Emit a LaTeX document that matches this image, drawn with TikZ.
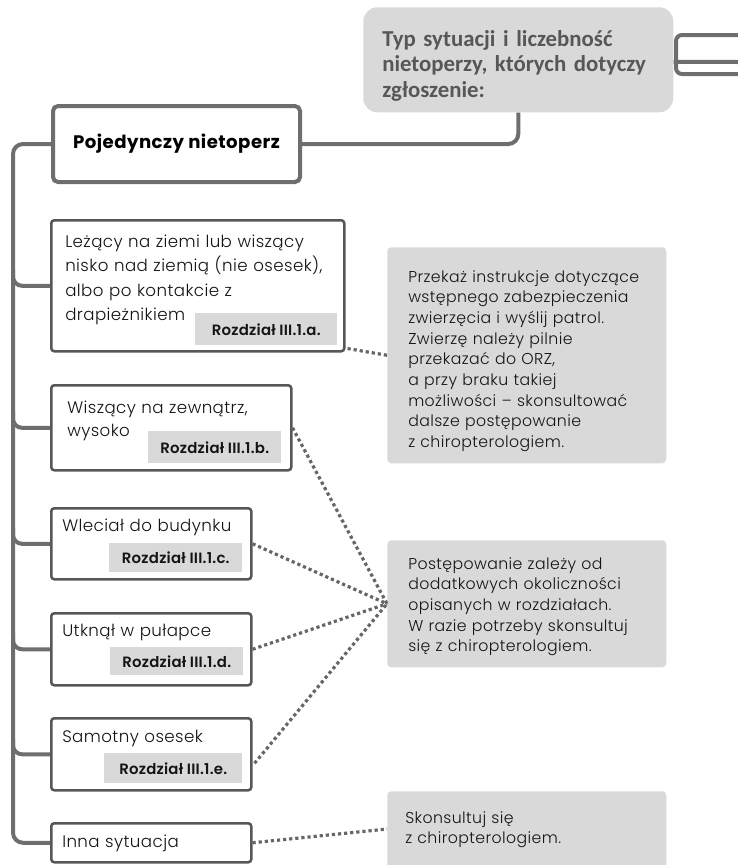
\documentclass[tikz,border=0pt]{standalone}
\usepackage{fontspec}
\setmainfont{Poppins Light}[LetterSpace=2.5, BoldFont={Poppins Bold}]
\newfontfamily\medfont{Poppins SemiBold}[LetterSpace=1.5]
\newfontfamily\hdrfont{Carlito}
\usetikzlibrary{calc}
\newdimen\pxu \pxu=0.75pt
\definecolor{boxfill}{HTML}{D9D9D9}
\definecolor{trunkc}{HTML}{6E6E6E}
\definecolor{borderc}{HTML}{575757}
\definecolor{hdrtext}{HTML}{575757}
\definecolor{dotc}{HTML}{666666}
\definecolor{bodytext}{HTML}{141414}
\begin{document}
\begin{tikzpicture}[x=0.75pt,y=-0.75pt,
  trunk/.style={draw=trunkc, line width=3pt, rounded corners=10\pxu},
  boxst/.style={draw=borderc, line width=1.9pt, fill=white, rounded corners=3\pxu, inner sep=0pt, anchor=north west},
  graybox/.style={fill=boxfill, rounded corners=4\pxu, inner sep=0pt, anchor=north west},
  txt/.style={anchor=base west, inner sep=0pt, align=left, text width=320\pxu, text=bodytext, font=\fontsize{12.5}{18.4}\selectfont},
  rtxt/.style={anchor=base west, inner sep=0pt, align=left, text width=270\pxu, text=bodytext, font=\fontsize{11.8}{15.5}\selectfont},
  lab/.style={fill=boxfill, inner sep=0pt, anchor=north west, text=bodytext, font=\medfont\fontsize{11.2}{13}\selectfont},
  dotline/.style={draw=dotc, line width=2.4pt, dash pattern=on 2.4pt off 2.2pt}
]
\useasboundingbox (0,0) rectangle (738,865);
\begin{scope}
\clip (0,0) rectangle (738,865);

% header
\node[graybox, rounded corners=14\pxu, minimum width=310\pxu, minimum height=105\pxu] (hdr) at (363,7) {};
\node[anchor=base west, inner sep=0pt, align=left, text width=300\pxu, text=hdrtext,
      font=\hdrfont\bfseries\fontsize{17.1}{19.2}\selectfont] (hdrt) at (382,46)
  {Typ sytuacji i liczebność\\nietoperzy, których dotyczy\\zgłoszenie:};

% right bracket
\coordinate (r1) at (738,35);
\coordinate (r2) at (738,62);
\coordinate (r3) at (738,74);
\coordinate (rx) at (676,0);
\draw[trunk, rounded corners=6\pxu] (r1) -| (rx |- r3) -- (r3);
\draw[trunk] ($(hdr.east)+(0,2)$) -- (r2);

% main box
\node[boxst, line width=3pt, draw=trunkc, rounded corners=5\pxu, minimum width=247\pxu, minimum height=76\pxu,
      font=\fontsize{13.6}{16}\selectfont\bfseries, text=black] (poj) at (51,104) {Pojedynczy nietoperz};
\draw[trunk] (hdr.south) |- (poj.east);

% child boxes
\node[boxst, minimum width=293\pxu, minimum height=131\pxu] (lez) at (50,219) {};
\node[boxst, minimum width=240\pxu, minimum height=85\pxu] (wis) at (50,384) {};
\node[boxst, minimum width=200\pxu, minimum height=71\pxu] (wle) at (50,507) {};
\node[boxst, minimum width=200\pxu, minimum height=72\pxu] (utk) at (50,612) {};
\node[boxst, minimum width=200\pxu, minimum height=72\pxu] (sam) at (50,717) {};
\node[boxst, minimum width=200\pxu, minimum height=39\pxu] (inn) at (50,822) {};

% trunk and branches
\coordinate (tx) at (13,0);
\draw[trunk] (poj.west) -| (inn.west -| tx) -- (inn.west);
\foreach \b in {lez,wis,wle,utk,sam}{
  \draw[trunk, rounded corners=9\pxu] ($(\b.west -| tx)+(0,-16)$) |- (\b.west);
}

% texts in child boxes
\node[txt] (lezt) at (65,247) {Leżący na ziemi lub wiszący\\nisko nad ziemią (nie osesek),\\albo po kontakcie z\\drapieżnikiem};
\node[txt, font=\fontsize{12.5}{17.3}\selectfont] (wist) at (67,413) {Wiszący na zewnątrz,\\wysoko};
\node[txt] (wlet) at (62,531) {Wleciał do budynku};
\node[txt] (utkt) at (62,636) {Utknął w pułapce};
\node[txt] (samt) at (62,742) {Samotny osesek};
\node[txt] (innt) at (62,847) {Inna sytuacja};

% chapter labels
\node[lab, minimum width=142\pxu, minimum height=32\pxu] (leza) at (195,313) {Rozdział III.1.a.};
\node[lab, minimum width=133\pxu, minimum height=32\pxu] (wisa) at (148,431) {Rozdział III.1.b.};
\node[lab, minimum width=133\pxu, minimum height=29\pxu] (wlea) at (109,543) {Rozdział III.1.c.};
\node[lab, minimum width=133\pxu, minimum height=28\pxu] (utka) at (110,647) {Rozdział III.1.d.};
\node[lab, minimum width=138\pxu, minimum height=30\pxu] (sama) at (104,753) {Rozdział III.1.e.};

% right boxes
\node[graybox, minimum width=279\pxu, minimum height=216\pxu] (p1) at (387,247) {};
\node[graybox, minimum width=279\pxu, minimum height=127\pxu] (p2) at (387,540) {};
\node[graybox, minimum width=279\pxu, minimum height=100\pxu] (p3) at (387,791) {};

\node[rtxt] (p1t) at (408,282) {Przekaż instrukcje dotyczące\\wstępnego zabezpieczenia\\zwierzęcia i wyślij patrol.\\Zwierzę należy pilnie\\przekazać do ORZ,\\a przy braku takiej\\możliwości – skonsultować\\dalsze postępowanie\\z chiropterologiem.};
\node[rtxt] (p2t) at (408,569) {Postępowanie zależy od\\dodatkowych okoliczności\\opisanych w rozdziałach.\\W razie potrzeby skonsultuj\\się z chiropterologiem.};
\node[rtxt] (p3t) at (405,823) {Skonsultuj się\\z chiropterologiem.};

% dotted connectors
\draw[dotline] ($(lez.south east)+(2,-4)$) -- (p1.west);
\draw[dotline] (wis.east) -- (p2.west);
\draw[dotline] (wle.east) -- (p2.west);
\draw[dotline] (utk.east) -- (p2.west);
\draw[dotline] ($(sam.east)+(2,9)$) -- (p2.west);
\draw[dotline] (inn.east) -- ($(p3.north west)+(0,38)$);
\end{scope}
\end{tikzpicture}
\end{document}
